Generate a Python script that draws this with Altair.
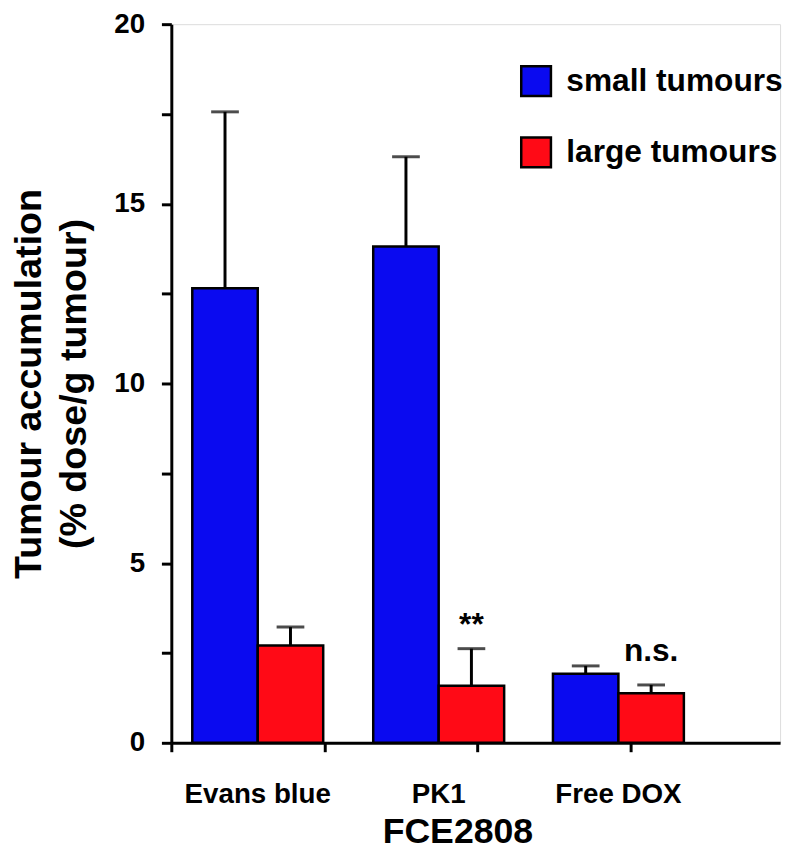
import altair as alt
import pandas as pd

# ---- data ----
GROUPS = ["Evans blue", "PK1", "Free DOX"]
SERIES = ["small tumours", "large tumours"]
SMALL = [12.65, 13.81, 1.92]
SMALL_ERR = [4.91, 2.50, 0.22]
LARGE = [2.71, 1.59, 1.38]
LARGE_ERR = [0.51, 1.03, 0.23]
LARGE_NOTE = ["", "**", "n.s."]

# ---- layout (not data) ----
GROUP_CENTER = [0.565, 1.748, 2.923]
BAR_W = 0.428
COLORS = ["#0A0AF0", "#FF0A16"]
FONT = "Liberation Sans"
W, H = 615, 726

rows = []
for i, g in enumerate(GROUPS):
    c = GROUP_CENTER[i]
    for s, vals, errs, off in ((SERIES[0], SMALL, SMALL_ERR, -1), (SERIES[1], LARGE, LARGE_ERR, 0)):
        x0 = c + off * BAR_W
        rows.append(dict(group=g, series=s, value=vals[i], upper=vals[i] + errs[i],
                         x0=x0, x1=x0 + BAR_W, xc=x0 + BAR_W / 2,
                         note=LARGE_NOTE[i] if s == SERIES[1] else ""))
df = pd.DataFrame(rows)
labels_df = pd.DataFrame({"group": GROUPS, "center": GROUP_CENTER})

xscale = alt.Scale(domain=[0, 3.98], nice=False, zero=False)
yscale = alt.Scale(domain=[0, 20], nice=False)

xaxis = alt.Axis(values=[0, 1, 2, 3], labels=False, grid=False, tickSize=9, tickWidth=3,
                 tickColor="black", domainColor="black", domainWidth=3,
                 title="FCE2808", titleFont=FONT, titleFontSize=36, titleFontWeight="bold",
                 titleColor="black", titleX=289, titleY=101, titleAlign="center",
                 titleBaseline="alphabetic")
yaxis = alt.Axis(values=[0, 2.5, 5, 7.5, 10, 12.5, 15, 17.5, 20],
                 labelExpr="datum.value % 5 === 0 ? datum.label : ''",
                 grid=False, tickSize=10, tickWidth=3, tickColor="black",
                 domainColor="black", domainWidth=3,
                 labelFont=FONT, labelFontSize=28, labelFontWeight="bold", labelColor="black",
                 labelPadding=17,
                 title=["Tumour accumulation", "(% dose/g tumour)"],
                 titleFont=FONT, titleFontSize=38, titleFontWeight="bold", titleColor="black",
                 titleAngle=-90, titleX=-132, titleY=H / 2, titleAlign="center",
                 titleBaseline="alphabetic", titleLineHeight=45)

base = alt.Chart(df)

bars = base.mark_bar(stroke="black", strokeWidth=2.5).encode(
    x=alt.X("x0:Q", scale=xscale, axis=xaxis),
    x2="x1:Q",
    y=alt.Y("value:Q", scale=yscale, axis=yaxis),
    y2=alt.datum(0),
    color=alt.Color("series:N", scale=alt.Scale(domain=SERIES, range=COLORS),
                    legend=alt.Legend(title=None, orient="none", legendX=352, legendY=41,
                                      symbolType="square", symbolSize=900,
                                      symbolStrokeColor="black", symbolStrokeWidth=2.5,
                                      labelFont=FONT, labelFontSize=32, labelFontWeight="bold",
                                      labelColor="black", labelOffset=14, rowPadding=31,
                                      labelLimit=0, padding=0)),
)

err = base.mark_rule(color="black", strokeWidth=3).encode(
    x="xc:Q", y="value:Q", y2="upper:Q")
caps = base.mark_tick(color="black", orient="horizontal", size=28, thickness=3).encode(
    x="xc:Q", y="upper:Q")

star = base.transform_filter(alt.datum.note == "**").mark_text(
    font=FONT, fontSize=32, fontWeight="bold", color="black", baseline="alphabetic", dy=-14
).encode(x="xc:Q", y="upper:Q", text="note:N")
ns = base.transform_filter(alt.datum.note == "n.s.").mark_text(
    font=FONT, fontSize=32, fontWeight="bold", color="black", baseline="alphabetic", dy=-24
).encode(x="xc:Q", y="upper:Q", text="note:N")

xlabels = alt.Chart(labels_df).mark_text(
    font=FONT, fontSize=28, fontWeight="bold", color="black", baseline="alphabetic"
).encode(x="center:Q", y=alt.value(H + 61), text="group:N")

chart = alt.layer(err, caps, bars, star, ns, xlabels).properties(
    width=W, height=H,
    autosize=alt.AutoSizeParams(type="none"),
    padding={"left": 165, "top": 12, "right": 8, "bottom": 108},
).configure_view(stroke=None).configure(background="white")

chart.save("out.html", embed_options={"renderer": "svg", "actions": False})
